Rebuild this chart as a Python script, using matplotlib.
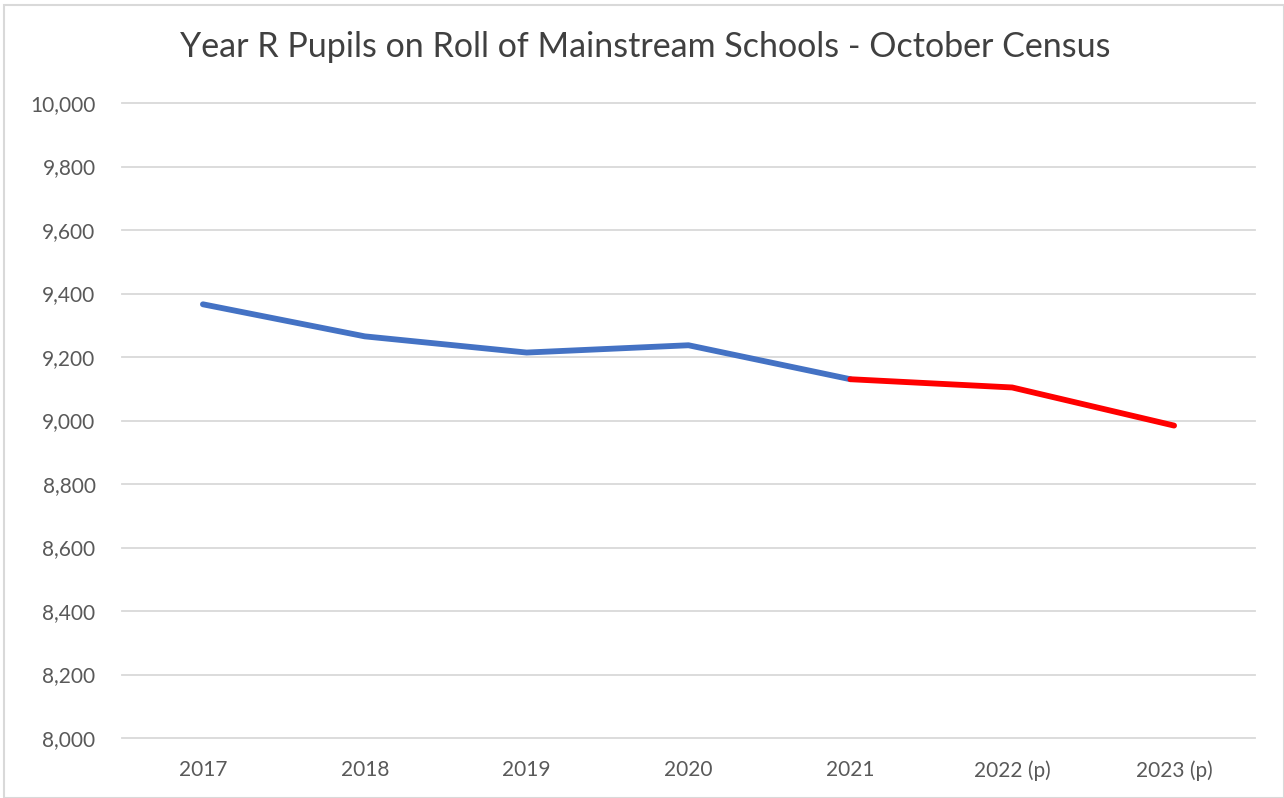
import matplotlib.pyplot as plt
from matplotlib.patches import Rectangle
from matplotlib.ticker import FuncFormatter

years = ['2017', '2018', '2019', '2020', '2021', '2022 (p)', '2023 (p)']
actual = [9366, 9265, 9214, 9237, 9130]
projected = [9130, 9104, 8984]

plt.rcParams['font.family'] = ['Lato', 'DejaVu Sans']

fig = plt.figure(figsize=(12.84, 7.98), dpi=100)
ax = fig.add_axes([122/1284, 1-738/798, (1255-122)/1284, (738-103)/798])

x_act = list(range(len(actual)))
x_proj = list(range(len(actual)-1, len(years)))
ax.plot(x_act, actual, color='#4472C4', lw=4.2, solid_capstyle='round', zorder=3)
ax.plot(x_proj, projected, color='#FF0000', lw=4.2, solid_capstyle='round', zorder=3)

ax.set_xlim(-0.5, len(years)-0.5)
ax.set_ylim(8000, 10000)
ax.set_yticks(range(8000, 10001, 200))
ax.yaxis.set_major_formatter(FuncFormatter(lambda v, p: f'{int(v):,}'))
ax.set_xticks(range(len(years)))
ax.set_xticklabels(years)
ax.grid(axis='y', color='#D9D9D9', lw=1.3)
for gl in ax.get_ygridlines():
    gl.set_clip_on(False)
ax.set_axisbelow(True)
for s in ax.spines.values():
    s.set_visible(False)
ax.tick_params(length=0, labelsize=15, colors='#595959')
ax.tick_params(axis='y', pad=19)
ax.tick_params(axis='x', pad=16)

fig.text(645/1284, 1-47/798, 'Year R Pupils on Roll of Mainstream Schools - October Census',
         ha='center', va='center', fontsize=24.5, color='#404040')

fig.patches.append(Rectangle((0.003, 0.0), 0.997, 0.994, transform=fig.transFigure,
                             fill=False, ec='#D9D9D9', lw=1.5))

fig.savefig('out.png', dpi=100)
